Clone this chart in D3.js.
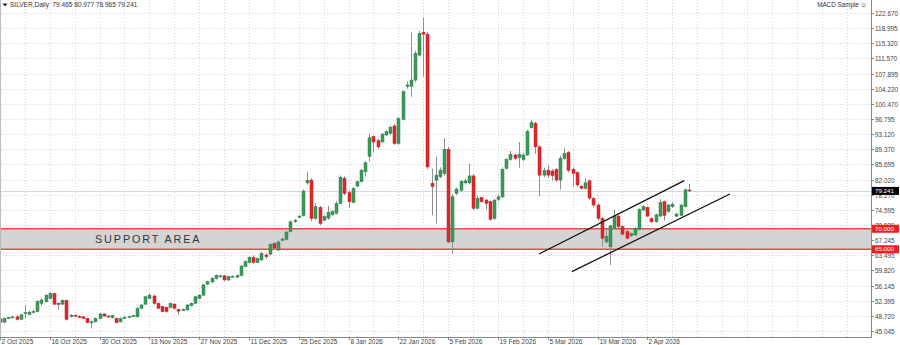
<!DOCTYPE html>
<html><head><meta charset="utf-8">
<script src="https://cdn.jsdelivr.net/npm/d3@7"></script>
<style>body{margin:0;background:#fff;overflow:hidden}svg{display:block;font-family:"Liberation Sans",Arial,sans-serif}</style>
</head><body>
<svg id="c" width="900" height="345"></svg>
<script>
// ---- data (daily bars, index 0 = 2 Oct 2025) ----
const opens = [
48.0,47.2,48.2,48.3,48.5,47.9,49.3,49.1,49.6,49.8,
51.8,52.2,53.0,54.2,51.8,51.6,52.5,48.6,48.9,48.6,
48.5,48.1,47.1,47.3,48.1,49.2,48.7,48.3,48.1,47.3,
48.2,48.4,48.6,48.5,50.6,51.6,53.0,53.6,51.8,51.0,
50.8,50.8,51.6,50.3,50.0,50.2,51.2,51.8,53.0,53.8,
56.5,57.0,57.9,58.4,58.5,57.5,58.3,58.2,58.6,60.8,
61.8,63.0,61.8,62.4,63.6,63.8,66.4,64.8,67.2,67.4,
69.3,71.8,72.8,73.2,81.2,81.9,72.5,75.2,72.1,72.6,
73.4,73.8,76.2,82.3,78.8,76.4,80.4,81.5,83.9,87.7,
92.5,91.5,91.2,92.9,93.3,95.1,90.8,96.7,104.7,104.8,
106.3,112.4,117.9,117.5,81.1,81.9,82.7,83.5,89.4,66.8,
78.6,79.4,81.2,81.2,82.9,75.0,77.6,77.0,76.6,72.5,
77.2,77.8,84.7,86.9,88.0,87.4,86.9,88.0,94.7,95.7,
90.0,83.1,84.3,84.1,84.5,81.9,87.2,88.6,84.5,83.7,
80.4,79.9,81.7,77.4,75.8,72.5,66.8,65.6,70.1,73.1,
70.5,69.3,68.3,68.5,69.9,74.6,75.2,72.5,71.7,73.1,
76.6,74.2,75.4,73.1,73.3,75.4,79.465];
const highs = [
48.4,48.3,48.5,48.8,48.9,49.2,51.4,50.0,50.3,52.6,
53.0,54.0,54.5,54.4,52.0,52.8,52.7,49.2,49.1,48.9,
48.7,48.3,47.6,48.4,49.4,49.4,48.9,49.0,48.4,48.3,
48.6,48.8,49.0,50.8,51.6,53.6,54.3,53.9,52.0,51.2,
51.0,52.0,51.8,50.5,50.5,51.6,52.0,53.6,54.0,56.5,
57.3,58.2,58.9,58.8,58.7,58.6,58.6,58.8,61.1,62.2,
63.3,63.5,62.9,64.3,64.0,66.5,66.8,67.1,67.8,69.4,
72.0,72.4,73.3,79.6,83.9,82.3,76.3,75.6,73.3,75.6,
74.5,76.8,83.0,82.8,79.3,80.2,81.8,84.6,86.5,93.3,
92.8,92.0,93.4,94.0,95.2,95.6,97.2,103.8,106.0,117.9,
113.5,118.3,121.6,118.0,84.7,87.6,85.0,92.1,90.0,78.5,
80.0,81.9,82.2,85.9,83.4,78.0,77.9,77.3,76.9,77.3,
78.4,85.0,87.2,89.0,88.4,91.2,88.5,94.2,96.5,96.2,
90.4,84.9,85.5,84.6,84.8,87.8,89.7,89.0,85.0,84.0,
80.7,82.3,82.0,77.8,76.2,72.8,70.1,71.0,74.6,73.4,
70.8,69.6,69.1,70.4,75.0,75.8,75.5,72.8,73.7,77.2,
76.9,76.1,76.4,73.9,76.0,79.8,80.977];
const lows = [
46.9,47.0,48.0,48.1,47.6,47.7,48.2,48.9,49.4,49.6,
51.2,52.0,52.8,51.3,50.2,51.4,47.6,48.3,48.4,48.2,
48.0,46.9,45.7,47.1,47.9,48.5,48.4,48.1,46.9,47.1,
48.0,48.2,48.5,48.4,50.4,51.4,52.8,51.5,50.4,49.6,
49.5,50.6,50.4,49.0,49.9,50.0,51.0,51.6,52.8,53.6,
56.3,56.8,57.6,58.1,57.2,57.3,58.1,57.9,58.4,60.6,
61.6,61.5,61.6,62.2,62.6,63.6,64.8,64.6,67.0,67.2,
69.1,71.4,72.6,73.0,80.8,71.8,72.2,70.9,71.9,72.2,
73.2,73.5,76.0,78.2,75.0,76.2,80.2,81.3,82.8,86.4,
88.6,89.6,91.0,92.6,93.0,90.5,90.5,96.5,104.2,102.2,
105.8,112.0,107.1,84.5,73.3,71.3,82.3,83.0,66.5,64.0,
78.3,79.0,80.8,80.8,74.6,74.8,76.4,74.7,72.0,72.2,
76.8,77.5,84.5,86.6,86.9,84.9,86.5,87.8,94.5,88.3,
77.9,82.6,82.5,81.8,81.5,79.6,86.8,83.8,80.3,80.3,
79.6,79.5,77.0,75.3,72.0,65.6,66.4,61.1,69.8,70.2,
68.3,67.4,68.0,68.2,69.6,74.3,72.8,71.4,71.5,72.9,
72.0,73.9,75.1,72.9,73.1,75.2,78.965];
const closes = [
47.2,48.1,48.3,48.5,47.9,49.0,49.5,49.6,49.8,52.2,
52.6,53.8,54.2,51.6,51.6,52.5,47.9,48.9,48.7,48.4,
48.1,47.1,47.3,48.1,49.2,48.7,48.6,48.8,47.1,48.1,
48.4,48.6,48.8,50.6,51.4,53.4,53.8,51.8,50.6,49.8,
49.8,51.8,50.6,49.9,50.3,51.4,51.8,53.4,53.8,56.3,
57.1,57.9,58.6,58.5,57.5,58.3,58.4,58.6,60.9,62.0,
63.0,61.8,62.8,64.0,63.2,66.2,65.3,66.8,67.5,69.2,
71.7,72.1,73.1,79.2,81.8,72.5,75.4,71.3,73.0,74.0,
74.2,76.2,82.6,78.6,76.6,79.8,81.5,84.3,86.1,92.2,
91.2,90.0,93.1,93.7,94.8,90.8,96.9,103.5,105.1,106.3,
112.8,117.7,117.5,85.1,80.3,83.1,84.3,89.4,66.8,77.8,
79.7,81.5,81.7,82.9,75.0,77.4,76.6,76.2,72.3,77.0,
77.8,84.5,86.9,88.2,87.2,88.2,88.0,93.8,95.9,90.0,
83.1,84.2,83.1,83.0,81.9,87.2,88.4,84.3,83.5,80.7,
79.9,81.2,77.5,75.8,72.5,67.7,68.1,70.7,73.1,70.5,
68.7,67.7,68.8,70.1,74.7,75.4,73.1,71.7,73.4,76.4,
73.3,75.8,76.0,73.6,75.8,79.5,79.241];

const yTickLabels = ["122.670","118.995","115.320","111.570","107.895","104.220","100.470","96.795","93.120","89.370","85.695","82.020","78.270","74.595","70.920","67.245","63.495","59.820","56.145","52.395","48.720","45.045"];
const xTickLabels = ["2 Oct 2025","16 Oct 2025","30 Oct 2025","13 Nov 2025","27 Nov 2025","11 Dec 2025","25 Dec 2025","8 Jan 2026","22 Jan 2026","5 Feb 2026","19 Feb 2026","5 Mar 2026","19 Mar 2026","2 Apr 2026"];
const xTickBars = [0,12,24,36,48,60,72,84,96,108,120,132,144,156];
const header = "SILVER,Daily  79.465 80.977 78.965 79.241";
const indicatorName = "MACD Sample \u263A";
const supportZone = [65.0, 70.0];
const supportLabel = "SUPPORT AREA";
const lastPrice = 79.241;
// channel lines: [barIndex, price]
const channelUpper = [[129.9, 63.85],[164.9, 81.74]];
const channelLower = [[137.8, 59.53],[175.9, 78.49]];

// ---- layout ----
const plotR = 871, plotB = 337;
const svg = d3.select("#c");
const x = d3.scaleLinear().domain([0, 209.9]).range([0, plotR]);
const y = d3.scaleLinear().domain([45.045, 122.670]).range([331, 13]);

svg.append("rect").attr("width",900).attr("height",345).attr("fill","#fff");

// support zone (background)
svg.append("rect").attr("x",0).attr("width",plotR)
  .attr("y",y(supportZone[1])).attr("height",y(supportZone[0])-y(supportZone[1]))
  .attr("fill","#d4d4d4");

// grid
const g = svg.append("g").attr("stroke","#cdd6e6").attr("stroke-width",1).attr("stroke-dasharray","1,2");
yTickLabels.forEach(t=>{
  const yy = Math.round(y(+t))+0.5;
  g.append("line").attr("x1",0).attr("x2",plotR).attr("y1",yy).attr("y2",yy);
});
d3.range(0, 210, 6).forEach(b=>{
  const xx = Math.round(x(b))+0.5;
  g.append("line").attr("x1",xx).attr("x2",xx).attr("y1",0).attr("y2",plotB);
});

// support lines
supportZone.forEach(v=>{
  svg.append("line").attr("x1",0).attr("x2",plotR).attr("y1",y(v)).attr("y2",y(v))
    .attr("stroke","#ef4a4a").attr("stroke-width",1.4);
});
svg.append("text").attr("x",95).attr("y",y((supportZone[0]+supportZone[1])/2)+4)
  .attr("font-size",10.8).attr("letter-spacing",1.9).attr("fill","#333")
  .text(supportLabel);

// bid line
svg.append("line").attr("x1",0).attr("x2",plotR).attr("y1",Math.round(y(lastPrice))+0.5).attr("y2",Math.round(y(lastPrice))+0.5)
  .attr("stroke","#d2d8e2").attr("stroke-width",1);

// candles
const cg = svg.append("g");
opens.forEach((o,i)=>{
  const c = closes[i], h = highs[i], l = lows[i];
  const cx = Math.round(x(i));
  cg.append("line").attr("x1",cx+0.5).attr("x2",cx+0.5).attr("y1",y(Math.max(h,o,c))).attr("y2",y(Math.min(l,o,c)))
    .attr("stroke","#8f8f8f").attr("stroke-width",1);
  const top = y(Math.max(o,c)), bot = y(Math.min(o,c));
  const up = c >= o;
  cg.append("rect").attr("x",cx-1).attr("width",3).attr("y",top).attr("height",Math.max(1,bot-top))
    .attr("fill", up ? "#3a9a5a" : "#e0262a")
    .attr("stroke", up ? "#2c7d47" : "#c41e22").attr("stroke-width",0.5);
});

// channel
[channelUpper, channelLower].forEach(seg=>{
  svg.append("line").attr("x1",x(seg[0][0])).attr("y1",y(seg[0][1])).attr("x2",x(seg[1][0])).attr("y2",y(seg[1][1]))
    .attr("stroke","#111").attr("stroke-width",1.3);
});

// frame
svg.append("line").attr("x1",plotR+0.5).attr("x2",plotR+0.5).attr("y1",0).attr("y2",plotB+0.5).attr("stroke","#888");
svg.append("line").attr("x1",0).attr("x2",plotR+0.5).attr("y1",plotB+0.5).attr("y2",plotB+0.5).attr("stroke","#888");
svg.append("line").attr("x1",0.5).attr("x2",0.5).attr("y1",0).attr("y2",plotB).attr("stroke","#bbb");

// right axis
yTickLabels.forEach(t=>{
  const yy = Math.round(y(+t))+0.5;
  svg.append("line").attr("x1",plotR).attr("x2",plotR+3).attr("y1",yy).attr("y2",yy).attr("stroke","#888");
  svg.append("text").attr("x",875).attr("y",yy+2.3).attr("font-size",6.4).attr("fill","#444").text(t);
});
// price labels
function priceTag(v, fill, txt){
  const yy = y(v);
  svg.append("rect").attr("x",plotR+1).attr("y",yy-4).attr("width",27).attr("height",8).attr("fill",fill);
  svg.append("text").attr("x",875).attr("y",yy+2.2).attr("font-size",6.2).attr("fill","#fff").text(txt);
}
priceTag(supportZone[1], "#f01e1e", supportZone[1].toFixed(3));
priceTag(supportZone[0], "#f01e1e", supportZone[0].toFixed(3));
priceTag(lastPrice, "#000", lastPrice.toFixed(3));

// bottom axis
xTickLabels.forEach((t,k)=>{
  const xx = Math.round(x(xTickBars[k]))+0.5;
  svg.append("line").attr("x1",xx).attr("x2",xx).attr("y1",plotB).attr("y2",plotB+3).attr("stroke","#888");
  svg.append("text").attr("x",xx+1).attr("y",343.5).attr("font-size",6.5).attr("fill","#444").text(t);
});

// header
svg.append("path").attr("d","M2.5,3.5 L7.5,3.5 L5,6.5 Z").attr("fill","#222");
svg.append("text").attr("x",10).attr("y",7).attr("font-size",6.5).attr("fill","#333").style("white-space","pre").text(header);
svg.append("text").attr("x",867).attr("y",7).attr("text-anchor","end").attr("font-size",6.3).attr("fill","#333").text(indicatorName);
</script>
</body></html>
